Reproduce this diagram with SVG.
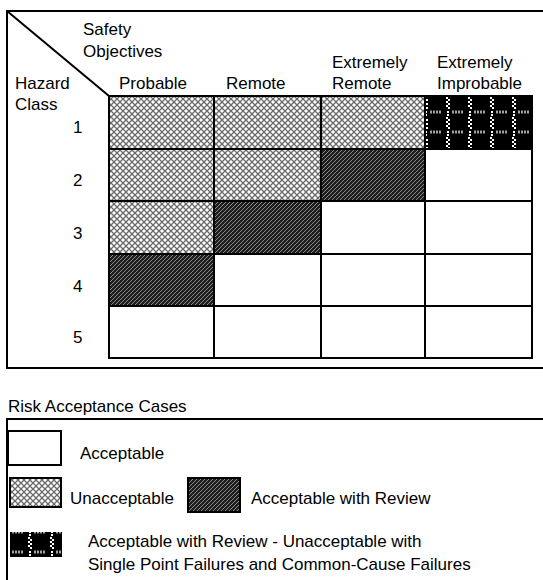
<svg xmlns="http://www.w3.org/2000/svg" width="543" height="580" viewBox="0 0 543 580">
<style>
text{font-family:"Liberation Sans",Arial,sans-serif;font-size:17px;fill:#000}
.frame{fill:none;stroke:#000;stroke-width:2}
.cell{stroke:#000;stroke-width:2}
.w{fill:#fff}
.x{fill:url(#cross)}
.d{fill:url(#diag)}
.b{fill:url(#blk)}
</style>
<defs>
<pattern id="cross" width="6" height="6" patternUnits="userSpaceOnUse">
<rect width="6" height="6" fill="#fff"/>
<path d="M0 0L6 6M6 0L0 6" stroke="#6a6a6a" stroke-width="1.3"/>
</pattern>
<pattern id="diag" width="4" height="4" patternUnits="userSpaceOnUse">
<rect width="4" height="4" fill="#1e1e1e"/>
<path d="M-1 5L5 -1" stroke="#8a8a8a" stroke-width="1"/>
</pattern>
<pattern id="blk" width="22" height="20" patternUnits="userSpaceOnUse" x="3" y="97">
<rect width="22" height="20" fill="#000"/>
<path d="M3 0h2v2h-2zM5 2h2v2h-2zM3 4h2v2h-2zM5 6h2v2h-2zM3 8h2v2h-2zM5 10h2v2h-2zM4 14h2v2h-2zM4 17h2v2h-2z" fill="#fff"/>
<path d="M9 15h11" stroke="#a0a0a0" stroke-width="3" stroke-dasharray="2 1"/>
</pattern>
</defs>
<g id="frame">
<rect class="frame" x="7" y="11" width="600" height="357"/>
</g>
<g id="connectors">
<line x1="7" y1="11" x2="109" y2="96" stroke="#000" stroke-width="2"/>
</g>
<g id="headers">
<text x="83" y="35">Safety</text>
<text x="83" y="57">Objectives</text>
<text x="15" y="89">Hazard</text>
<text x="15" y="110">Class</text>
<text x="119" y="89">Probable</text>
<text x="226" y="89">Remote</text>
<text x="332" y="68">Extremely</text>
<text x="332" y="89">Remote</text>
<text x="437" y="68">Extremely</text>
<text x="437" y="89">Improbable</text>
<text x="73" y="133">1</text>
<text x="73" y="186">2</text>
<text x="73" y="239">3</text>
<text x="73" y="292">4</text>
<text x="73" y="343">5</text>
</g>
<g id="row1">
<rect class="cell x" x="109" y="96" width="105" height="53"/>
<rect class="cell x" x="214" y="96" width="107" height="53"/>
<rect class="cell x" x="321" y="96" width="104" height="53"/>
<rect class="cell b" x="425" y="96" width="107" height="53"/>
</g>
<g id="row2">
<rect class="cell x" x="109" y="149" width="105" height="52"/>
<rect class="cell x" x="214" y="149" width="107" height="52"/>
<rect class="cell d" x="321" y="149" width="104" height="52"/>
<rect class="cell w" x="425" y="149" width="107" height="52"/>
</g>
<g id="row3">
<rect class="cell x" x="109" y="201" width="105" height="53"/>
<rect class="cell d" x="214" y="201" width="107" height="53"/>
<rect class="cell w" x="321" y="201" width="104" height="53"/>
<rect class="cell w" x="425" y="201" width="107" height="53"/>
</g>
<g id="row4">
<rect class="cell d" x="109" y="254" width="105" height="52"/>
<rect class="cell w" x="214" y="254" width="107" height="52"/>
<rect class="cell w" x="321" y="254" width="104" height="52"/>
<rect class="cell w" x="425" y="254" width="107" height="52"/>
</g>
<g id="row5">
<rect class="cell w" x="109" y="306" width="105" height="52"/>
<rect class="cell w" x="214" y="306" width="107" height="52"/>
<rect class="cell w" x="321" y="306" width="104" height="52"/>
<rect class="cell w" x="425" y="306" width="107" height="52"/>
</g>
<g id="legend">
<text x="8" y="412">Risk Acceptance Cases</text>
<rect class="frame" x="7" y="419" width="600" height="200"/>
<g id="legend-acceptable">
<rect class="cell w" x="8" y="431" width="53" height="34"/>
<text x="80" y="459">Acceptable</text>
</g>
<g id="legend-unacceptable">
<rect class="cell x" x="10" y="478" width="51" height="29"/>
<text x="70" y="504">Unacceptable</text>
</g>
<g id="legend-review">
<rect class="cell d" x="188" y="478" width="52" height="34"/>
<text x="251" y="504">Acceptable with Review</text>
</g>
<g id="legend-special">
<rect x="10" y="532" width="52" height="25" fill="url(#blk)"/>
<text x="88" y="547">Acceptable with Review - Unacceptable with</text>
<text x="88" y="570">Single Point Failures and Common-Cause Failures</text>
</g>
</g>
</svg>
